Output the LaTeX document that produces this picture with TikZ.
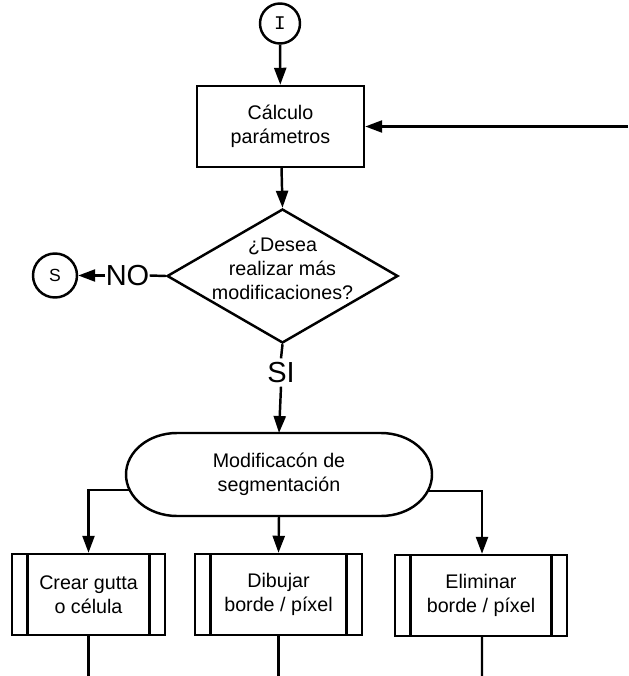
\documentclass[tikz,border=0pt]{standalone}
\usepackage{fontspec}
\setmainfont{Liberation Sans}
\newfontfamily\monofont{Liberation Mono}
\usetikzlibrary{shapes.geometric, arrows.meta, positioning}
\tikzstyle{connector} = [circle, draw=black, line width=1.4pt, minimum size=0.8cm, inner sep=0pt]
\tikzstyle{process} = [rectangle, draw=black, line width=1.4pt, minimum width=3.34cm, minimum height=1.62cm, align=center]
\tikzstyle{decision} = [diamond, draw=black, line width=1.4pt, minimum width=4.62cm, minimum height=2.68cm, aspect=1.72, inner sep=-0.2cm, text depth=0.3cm, align=center]
\tikzstyle{terminal} = [rectangle, draw=none, outer sep=0pt, minimum width=6.12cm, minimum height=1.66cm, align=center]
\tikzstyle{subprocess} = [rectangle, draw=black, line width=1.4pt, minimum height=1.62cm, align=center,
    path picture={\draw[line width=1.4pt] ([xshift=0.31cm]path picture bounding box.north west) -- ([xshift=0.31cm]path picture bounding box.south west)
        ([xshift=-0.31cm]path picture bounding box.north east) -- ([xshift=-0.31cm]path picture bounding box.south east);}]
\tikzstyle{answer} = [font=\fontsize{16.5}{18}\selectfont, inner xsep=0pt, inner ysep=2pt]
\tikzstyle{line} = [line width=1.4pt]
\tikzstyle{arrow} = [line width=1.4pt, -{Triangle[length=0.34cm, width=0.24cm]}]
\begin{document}
\begin{tikzpicture}[font=\fontsize{11.2}{13.6}\selectfont]
    \useasboundingbox (0,0) rectangle (12.56,-13.52);
    \node (inicio) [connector, font=\monofont\fontsize{11}{12}\selectfont] at (5.60,-0.47) {I};
    \node (calculo) [process] at (5.61,-2.53) {Cálculo\\parámetros};
    \coordinate (retorno) at (12.56,-2.53);
    \node (pregunta) [decision] at (5.65,-5.52) {¿Desea\\realizar más\\modificaciones?};
    \node (no) [answer] at (2.55,-5.51) {NO};
    \node (salida) [connector, minimum size=0.88cm, font=\fontsize{10}{11}\selectfont] at (1.10,-5.51) {S};
    \node (si) [answer] at (5.62,-7.45) {SI};
    \node (modif) [terminal] at (5.58,-9.49) {Modificacón de\\segmentación};
    \node (crear) [subprocess, minimum width=3.06cm] at (1.77,-11.89) {Crear gutta\\o célula};
    \node (dibujar) [subprocess, minimum width=3.34cm] at (5.57,-11.89) {Dibujar\\borde / píxel};
    \node (eliminar) [subprocess, minimum width=3.44cm] at (9.62,-11.91) {Eliminar\\borde / píxel};
    \coordinate (fin1) at (1.77,-13.52);
    \coordinate (fin2) at (5.57,-13.52);
    \coordinate (fin3) at (9.64,-13.52);
    % borde del terminal con extremos elipticos
    \draw [line] ([xshift=1.02cm]modif.north west) -- ([xshift=-1.02cm]modif.north east)
        arc[start angle=90, end angle=-90, x radius=1.02cm, y radius=0.83cm]
        -- ([xshift=1.02cm]modif.south west)
        arc[start angle=270, end angle=90, x radius=1.02cm, y radius=0.83cm] -- cycle;
    \draw [arrow] (inicio) -- (calculo);
    \draw [arrow] (retorno) -- (calculo.east);
    \draw [arrow] (calculo) -- (pregunta.north);
    \draw [line] (pregunta.west) -- (no.east);
    \draw [arrow] (no.west) -- (salida.east);
    \draw [line] (pregunta.south) -- (si.north);
    \draw [arrow] (si.south) -- (modif.north);
    \draw [arrow] ([xshift=0.08cm, yshift=-0.31cm]modif.west) -| (crear.north);
    \draw [arrow] (modif.south) -- (dibujar.north);
    \draw [arrow] ([xshift=-0.09cm, yshift=-0.33cm]modif.east) -| ([xshift=0.02cm]eliminar.north);
    \draw [line] (crear.south) -- (fin1);
    \draw [line] (dibujar.south) -- (fin2);
    \draw [line] ([xshift=0.02cm]eliminar.south) -- (fin3);
\end{tikzpicture}
\end{document}
